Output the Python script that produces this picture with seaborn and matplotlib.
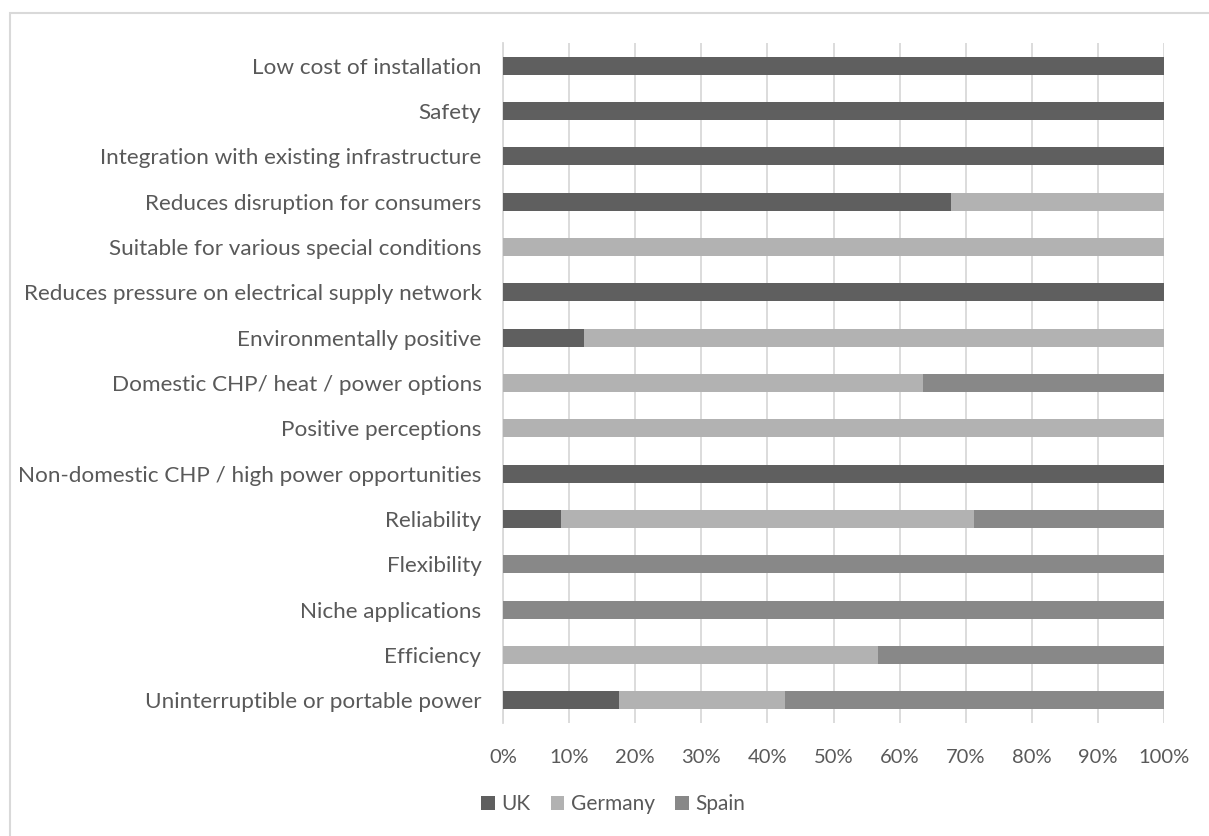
import matplotlib
matplotlib.use("Agg")
import matplotlib.pyplot as plt
import pandas as pd
import seaborn as sns
from matplotlib.patches import Patch, Rectangle

# Benefit categories, listed top to bottom
categories = [
    "Low cost of installation",
    "Safety",
    "Integration with existing infrastructure",
    "Reduces disruption for consumers",
    "Suitable for various special conditions",
    "Reduces pressure on electrical supply network",
    "Environmentally positive",
    "Domestic CHP/ heat / power options",
    "Positive perceptions",
    "Non-domestic CHP / high power opportunities",
    "Reliability",
    "Flexibility",
    "Niche applications",
    "Efficiency",
    "Uninterruptible or portable power",
]

# Share of mentions per country (percent of each row)
uk = [100, 100, 100, 67.8, 0, 100, 12.3, 0, 0, 100, 8.8, 0, 0, 0, 17.5]
germany = [0, 0, 0, 32.2, 100, 0, 87.7, 63.5, 100, 0, 62.5, 0, 0, 56.7, 25.2]
spain = [0, 0, 0, 0, 0, 0, 0, 36.5, 0, 0, 28.7, 100, 100, 43.3, 57.3]

series_names = ["UK", "Germany", "Spain"]
x_ticks = list(range(0, 101, 10))
x_tick_labels = [f"{t}%" for t in x_ticks]

colors = ["#5f5f5f", "#b2b2b2", "#888888"]
text_color = "#595959"
grid_color = "#d9d9d9"

sns.set_theme(style="white")
plt.rcParams["font.family"] = ["Lato", "DejaVu Sans"]

W, H = 1209, 836
fig = plt.figure(figsize=(W / 100, H / 100), dpi=100)
ax = fig.add_axes([503 / W, 1 - 723 / H, 661 / W, 680 / H])

df = pd.DataFrame({"category": categories, "UK": uk, "Germany": germany, "Spain": spain})
cum = df[series_names].cumsum(axis=1)

# Stacked bars: draw the running totals from the outermost layer inward
for i, (name, color) in enumerate(reversed(list(zip(series_names, colors)))):
    sns.barplot(
        x=cum[name].values, y=df["category"].values, color=color, width=0.4,
        orient="h", saturation=1, linewidth=0, ax=ax, zorder=3 + i,
    )

ax.set_xlim(0, 100)
ax.set_xticks(x_ticks)
ax.set_xticklabels(x_tick_labels)
ax.set_xlabel("")
ax.set_ylabel("")
ax.set_axisbelow(True)
ax.xaxis.grid(True, color=grid_color, linewidth=1.3)
ax.yaxis.grid(False)
for side in ["top", "right", "bottom"]:
    ax.spines[side].set_visible(False)
ax.spines["left"].set_color(grid_color)
ax.spines["left"].set_linewidth(1.3)
ax.tick_params(axis="x", length=0, pad=19, labelsize=14.5, labelcolor=text_color)
ax.tick_params(axis="y", length=0, pad=15.5, labelsize=16.2, labelcolor=text_color)

handles = [Patch(facecolor=c, edgecolor="none") for c in colors]
fig.legend(
    handles, series_names, loc="center", bbox_to_anchor=(613 / W, 1 - 804 / H),
    ncol=3, frameon=False, fontsize=15, labelcolor=text_color,
    handlelength=0.65, handleheight=0.65, handletextpad=0.3, columnspacing=1.0,
)

# Light chart-area frame
fig.patches.append(Rectangle((10 / W, -0.05), 1.2, 1.05 - 13 / H, transform=fig.transFigure,
                             fill=False, edgecolor=grid_color, linewidth=1.5))

fig.savefig("out.png", dpi=100)
